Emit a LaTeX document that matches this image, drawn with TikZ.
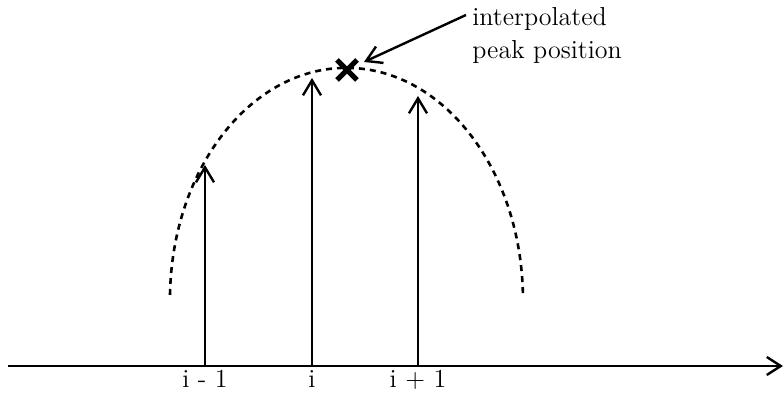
\documentclass[tikz,border=0pt]{standalone}
\usetikzlibrary{arrows.meta,calc}
\begin{document}
\begin{tikzpicture}[x=0.5pt,y=0.5pt,
  line/.style={line width=1.2pt},
  vec/.style={line width=1.2pt,-{Straight Barb[length=7.5pt,width=9pt,line width=1.2pt]}},
  lab/.style={font=\fontsize{13}{15}\selectfont,inner sep=0pt},
  arcline/.style={line width=1.3pt,dash pattern=on 3pt off 2.5pt}]
\useasboundingbox (0,0) rectangle (784,399);
% axis
\coordinate (a0) at (8,33);
\coordinate (a1) at (783,33);
\draw[line,-{Straight Barb[length=7pt,width=9pt,line width=1.2pt]}] (a0) -- (a1);
% samples
\coordinate (b1) at (205,33); \coordinate (t1) at (205,234);
\coordinate (b2) at (312,33); \coordinate (t2) at (312,321);
\coordinate (b3) at (418,33); \coordinate (t3) at (418,303);
\draw[vec] (b1) -- (t1);
\draw[vec] (b2) -- (t2);
\draw[vec] (b3) -- (t3);
\node[lab,anchor=base] (l1) at (205,11) {i - 1};
\node[lab,anchor=base] (l2) at (312,11) {i};
\node[lab,anchor=base] (l3) at (418,11) {i + 1};
% dashed arc
\coordinate (e0) at (170,104);
\draw[arcline] (e0) arc[start angle=178.8, end angle=1.2, x radius=88.25pt, y radius=116pt];
% cross
\coordinate (pk) at (347,329);
\draw[line width=2.6pt] ($(pk)+(-10,-10)$) -- ($(pk)+(10,10)$);
\draw[line width=2.6pt] ($(pk)+(-10,10)$) -- ($(pk)+(10,-10)$);
% label
\node[lab,anchor=base west,align=left,font=\fontsize{13}{16.5}\selectfont] (txt) at (472,340) {interpolated\\peak position};
\coordinate (as) at (466,384);
\coordinate (ae) at (364,337);
\draw[vec] (as) -- (ae);
\end{tikzpicture}
\end{document}
